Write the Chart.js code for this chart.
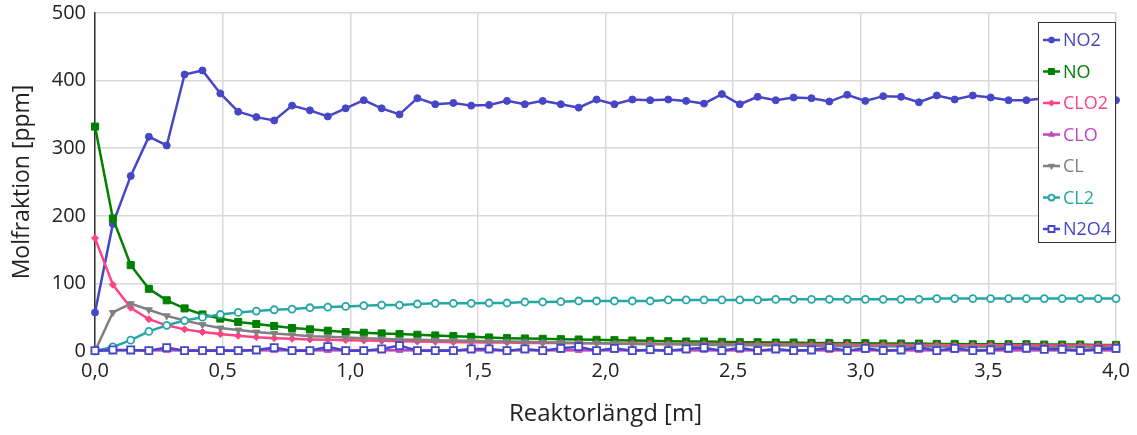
<!DOCTYPE html>
<html>
<head>
<meta charset="utf-8">
<script src="https://cdn.jsdelivr.net/npm/chart.js@4/dist/chart.umd.min.js"></script>
<style>
  html, body { margin: 0; padding: 0; background: #fff; }
  #wrap { position: relative; width: 1137px; height: 435px; }
</style>
</head>
<body>
<div id="wrap"><canvas id="chart" width="1137" height="435"></canvas></div>
<script>
// x positions along the reactor (m)
const lengths = [0, 0.070, 0.140, 0.211, 0.281, 0.351, 0.421, 0.491, 0.561, 0.632,
  0.702, 0.772, 0.842, 0.912, 0.982, 1.053, 1.123, 1.193, 1.263, 1.333,
  1.404, 1.474, 1.544, 1.614, 1.684, 1.754, 1.825, 1.895, 1.965, 2.035,
  2.105, 2.175, 2.246, 2.316, 2.386, 2.456, 2.526, 2.596, 2.667, 2.737,
  2.807, 2.877, 2.947, 3.018, 3.088, 3.158, 3.228, 3.298, 3.368, 3.439,
  3.509, 3.579, 3.649, 3.719, 3.789, 3.860, 3.930, 4.000];

const no2 = [57, 188, 259, 317, 304, 409, 415, 381, 354, 346,
  341, 363, 356, 347, 359, 371, 359, 350, 374, 365,
  367, 363, 364, 370, 365, 370, 365, 360, 372, 365,
  372, 371, 372, 370, 366, 380, 365, 376, 371, 375,
  374, 369, 379, 370, 377, 376, 368, 378, 372, 378,
  375, 371, 371, 374, 372, 376, 370, 371];

const no = [332, 196, 127, 92, 75, 63, 54, 48, 43, 40,
  37, 34, 32, 30, 28, 27, 26, 25, 24, 23,
  22, 21, 20, 19, 18.5, 18, 17.5, 17, 16.5, 16,
  15.5, 15, 14.5, 14, 14, 13.5, 13, 13, 12.5, 12.5,
  12, 12, 11.5, 11.5, 11, 11, 11, 10.5, 10.5, 10,
  10, 10, 10, 9.5, 9.5, 9.5, 9, 9];

const clo2 = [167, 98, 64, 47, 38, 32, 28, 25, 22.5, 20.5,
  19, 18, 17, 16.5, 16, 15.5, 15, 14.5, 14, 13.5,
  13, 13, 12.5, 12.5, 12, 12, 12, 11.5, 11.5, 11,
  11, 11, 10.5, 10.5, 10.5, 10, 10, 10, 10, 9.5,
  9.5, 9.5, 9.5, 9, 9, 9, 9, 9, 8.5, 8.5,
  8.5, 8.5, 8.5, 8, 8, 8, 8, 8];

const clo = [0.5, 1, 1, 1, 1, 1, 1, 1, 1, 1,
  1, 1, 1, 1, 1, 1, 1, 1, 1, 1,
  1, 1, 1, 1, 1, 1, 1, 1, 1, 1,
  1, 1, 1, 1, 1, 1, 1, 1, 1, 1,
  1, 1, 1, 1, 1, 1, 1, 1, 1, 1,
  1, 1, 1, 1, 1, 1, 1, 1];

const cl = [0, 57, 70, 61, 52, 45, 39, 34, 31, 28,
  26, 24, 22, 21, 20, 19, 18, 17, 16.5, 16,
  15.5, 15, 14.5, 14, 13.5, 13, 12.5, 12, 11.5, 11,
  10.5, 10, 10, 9.5, 9, 9, 8.5, 8.5, 8, 8,
  7.5, 7.5, 7, 7, 7, 6.5, 6.5, 6.5, 6, 6,
  6, 6, 5.5, 5.5, 5.5, 5.5, 5, 5];

const cl2 = [0, 6, 16, 29, 38, 45, 50, 54, 57, 59,
  61, 62, 64, 65, 66, 67, 68, 68, 69.5, 70.5,
  70.5, 70.5, 71, 71, 72.5, 72.5, 73, 74, 74, 74,
  74, 74, 75.5, 75.5, 75.5, 75.5, 75.5, 75.5, 76.5, 76.5,
  76.5, 76.5, 76.5, 76.5, 76.5, 76.5, 76.5, 77.5, 77.5, 77.5,
  77.5, 77.5, 77.5, 77.5, 77.5, 77.5, 77.5, 77.5];

const n2o4 = [0.5, 1.5, 1.5, 0.5, 5, 0.5, 0.5, 0.5, 0.5, 1.5,
  5, 0.5, 0.5, 6.4, 0.5, 0.5, 3, 8, 0.5, 0.5,
  0.5, 3, 3, 0.5, 3, 0.5, 4, 6.4, 0.5, 3.9,
  0.5, 2, 0.5, 3, 4.9, 0.5, 4.9, 0.5, 3, 0.5,
  1.5, 4.9, 0.5, 3.9, 0.5, 1.5, 5.4, 0.5, 3.9, 0.5,
  1.5, 4.4, 4.4, 2.5, 2.5, 0.5, 2.5, 3.9];

const seriesNames = ['NO2', 'NO', 'CLO2', 'CLO', 'CL', 'CL2', 'N2O4'];
const xTitle = 'Reaktorlängd [m]';
const yTitle = 'Molfraktion [ppm]';

const styles = [
  { color: '#4646c6', fill: '#4646c6', point: 'circle', r: 3.5, rot: 0 },
  { color: '#008000', fill: '#008000', point: 'rect', r: 5, rot: 0 },
  { color: '#ff4282', fill: '#ff4282', point: 'rectRot', r: 3.5, rot: 0 },
  { color: '#c245c2', fill: '#c245c2', point: 'triangle', r: 4, rot: 0 },
  { color: '#808080', fill: '#808080', point: 'triangle', r: 4, rot: 180 },
  { color: '#27a6a6', fill: '#ffffff', point: 'circle', r: 3.5, rot: 0 },
  { color: '#4646c6', fill: '#ffffff', point: 'rect', r: 5, rot: 0 }
];

function toPoints(values) {
  return values.map((v, i) => ({ x: lengths[i], y: v }));
}

const allSeries = [no2, no, clo2, clo, cl, cl2, n2o4];

// later series are drawn on top, as in the original
const datasets = allSeries.map((vals, i) => ({
  label: seriesNames[i],
  data: toPoints(vals),
  order: allSeries.length - i,
  borderColor: styles[i].color,
  backgroundColor: styles[i].fill,
  pointBackgroundColor: styles[i].fill,
  pointBorderColor: styles[i].color,
  pointBorderWidth: styles[i].fill === '#ffffff' ? 1.8 : 1,
  pointStyle: styles[i].point,
  pointRadius: styles[i].r,
  pointRotation: styles[i].rot,
  borderWidth: 2.5,
  tension: 0,
  fill: false,
  clip: 10
}));

// legend box drawn inside the plot, top right, like the original
const boxLegend = {
  id: 'boxLegend',
  afterDraw(chart) {
    const ctx = chart.ctx;
    const area = chart.chartArea;
    const w = 78, h = 221;
    const x0 = area.right - w, y0 = 22;
    ctx.save();
    ctx.fillStyle = '#ffffff';
    ctx.fillRect(x0, y0, w, h);
    ctx.strokeStyle = '#333333';
    ctx.lineWidth = 1;
    ctx.strokeRect(x0 + 0.5, y0 + 0.5, w - 1, h - 1);
    ctx.font = "18px 'Open Sans', sans-serif";
    ctx.textBaseline = 'middle';
    chart.data.datasets.forEach((ds, i) => {
      const y = y0 + 18 + i * 31.5;
      ctx.strokeStyle = ds.borderColor;
      ctx.lineWidth = 2.5;
      ctx.beginPath();
      ctx.moveTo(x0 + 5, y);
      ctx.lineTo(x0 + 22, y);
      ctx.stroke();
      ctx.fillStyle = ds.pointBackgroundColor;
      ctx.strokeStyle = ds.pointBorderColor;
      ctx.lineWidth = ds.pointBorderWidth;
      Chart.helpers.drawPoint(ctx, {
        pointStyle: ds.pointStyle,
        radius: ds.pointRadius * 0.85,
        rotation: ds.pointRotation,
        borderWidth: ds.pointBorderWidth
      }, x0 + 13.5, y);
      ctx.fillStyle = ds.borderColor;
      ctx.fillText(ds.label, x0 + 25, y + 1);
    });
    ctx.restore();
  }
};

Chart.defaults.font.family = "'Open Sans', sans-serif";
Chart.defaults.color = '#222222';

new Chart(document.getElementById('chart').getContext('2d'), {
  type: 'line',
  data: { datasets },
  options: {
    responsive: false,
    animation: false,
    layout: { padding: { top: 13, right: 21, left: 0, bottom: 0 } },
    plugins: { legend: { display: false }, tooltip: { enabled: false } },
    scales: {
      x: {
        type: 'linear',
        min: 0,
        max: 4,
        ticks: {
          stepSize: 0.5,
          padding: 8,
          font: { size: 20 },
          callback: v => v.toFixed(1).replace('.', ',')
        },
        grid: { color: '#d9d9d9', lineWidth: 1.5, drawTicks: false },
        border: { color: '#d9d9d9' },
        title: { display: true, text: xTitle, font: { size: 24 }, padding: { top: 0, bottom: 6 } },
        afterFit(scale) { scale.height = 84; scale.paddingLeft = 0; scale.paddingRight = 0; }
      },
      y: {
        min: 0,
        max: 500,
        ticks: { stepSize: 100, padding: 9, font: { size: 20 } },
        grid: { color: '#d9d9d9', lineWidth: 1.5, drawTicks: false },
        border: { color: '#333333', width: 1.5 },
        title: { display: true, text: yTitle, font: { size: 23 }, padding: { top: 9, bottom: 0 } },
        afterFit(scale) { scale.width = 95; scale.paddingTop = 0; scale.paddingBottom = 0; }
      }
    }
  },
  plugins: [boxLegend]
});
</script>
</body>
</html>
